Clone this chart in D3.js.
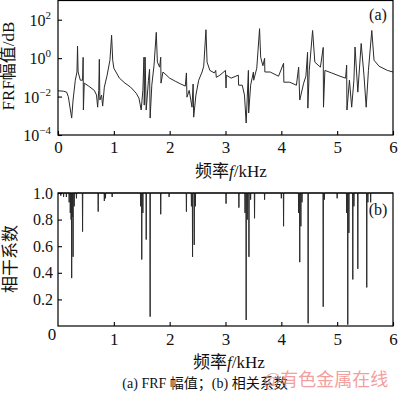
<!DOCTYPE html>
<html>
<head>
<meta charset="utf-8">
<script src="https://cdn.jsdelivr.net/npm/d3@7"></script>
<style>
body { margin: 0; background: #fff; }
text { font-family: "Liberation Serif", "Noto Sans CJK SC", serif; fill: #111; }
</style>
</head>
<body>
<svg width="400" height="395"></svg>
<script>
// (a) FRF magnitude
var frfFreq = [0.00, 0.10, 0.155, 0.185, 0.245, 0.27, 0.31, 0.34, 0.35, 0.36, 0.40, 0.44, 0.45, 0.455, 0.47, 0.55, 0.65, 0.69, 0.71, 0.73,
    0.74, 0.75, 0.78, 0.80, 0.83, 0.88, 0.93, 0.96, 0.98, 1.00, 1.10, 1.20, 1.30, 1.40, 1.45, 1.49, 1.52, 1.54, 1.545, 1.555,
    1.56, 1.58, 1.62, 1.64, 1.65, 1.68, 1.72, 1.76, 1.78, 1.82, 1.84, 1.845, 1.88, 2.00, 2.10, 2.20, 2.28, 2.30, 2.31, 2.35,
    2.40, 2.42, 2.43, 2.47, 2.52, 2.58, 2.61, 2.65, 2.67, 2.72, 2.80, 2.825, 2.835, 2.90, 3.00, 3.01, 3.015, 3.10, 3.23, 3.235,
    3.30, 3.34, 3.37, 3.39, 3.41, 3.415, 3.45, 3.50, 3.505, 3.56, 3.61, 3.63, 3.67, 3.70, 3.705, 3.80, 3.95, 4.04, 4.045, 4.15,
    4.27, 4.31, 4.33, 4.40, 4.44, 4.47, 4.475, 4.50, 4.56, 4.60, 4.70, 4.75, 4.755, 4.78, 4.90, 5.05, 5.15, 5.17, 5.175, 5.22,
    5.26, 5.30, 5.32, 5.37, 5.43, 5.48, 5.52, 5.56, 5.62, 5.66, 5.75, 5.90, 6.00];
var frfMag = [0.020, 0.019, 0.017, 0.0098, 0.00076, 0.0066, 0.071, 0.19, 4.2, 0.19, 0.071, 0.071, 1.1, 0.0020, 0.050, 0.035, 0.021, 0.012, 0.0028, 0.021,
    0.87, 0.0066, 0.012, 0.0032, 0.031, 0.13, 0.78, 15.5, 0.78, 0.30, 0.091, 0.050, 0.031, 0.015, 0.0083, 0.0020, 0.021, 1.12, 0.0036, 0.10,
    1.12, 0.0020, 0.071, 0.26, 0.00076, 0.039, 0.43, 22, 0.62, 0.34, 1.12, 0.050, 0.19, 0.091, 0.063, 0.045, 0.035, 0.17, 0.0093, 0.021,
    0.0028, 0.045, 0.00085, 0.012, 0.071, 0.19, 0.38, 30, 0.62, 0.23, 0.17, 0.23, 0.10, 0.13, 0.23, 0.028, 0.13, 0.091, 0.13, 0.039,
    0.039, 0.012, 0.00042, 0.0093, 0.23, 0.0014, 0.039, 0.19, 0.071, 0.30, 34, 1.1, 0.40, 0.98, 0.19, 0.19, 0.115, 0.54, 0.056, 0.056,
    0.039, 0.34, 0.0066, 0.050, 0.115, 2.0, 0.0025, 0.23, 27.5, 0.62, 0.34, 3.6, 0.0028, 0.23, 0.17, 0.115, 0.091, 0.43, 0.0020, 0.071,
    0.0028, 0.071, 3.8, 0.017, 5.8, 0.13, 0.0028, 0.23, 27.5, 0.78, 0.38, 0.23, 0.19];
var frfTicks = [1e-4, 1e-2, 1, 1e2];
var frfTickExp = ["-4", "-2", "0", "2"];

// (b) coherence: value stays at 1.0 except for narrow dips
var cohDipFreq = [0.05, 0.10, 0.15, 0.20, 0.22, 0.235, 0.245, 0.255, 0.27, 0.29, 0.33, 0.44, 0.72, 0.83, 0.85, 0.97, 1.48, 1.50, 1.52, 1.58,
    1.65, 1.84, 1.99, 2.30, 2.39, 2.41, 2.44, 2.46, 3.01, 3.24, 3.35, 3.37, 3.39, 3.42, 3.45, 3.52, 3.70, 4.00, 4.04, 4.31,
    4.33, 4.35, 4.37, 4.48, 4.75, 4.77, 5.00, 5.17, 5.19, 5.21, 5.28, 5.30, 5.37, 5.53, 5.55, 5.60];
var cohDipMin = [0.98, 0.97, 0.97, 0.93, 0.85, 0.80, 0.36, 0.82, 0.52, 0.90, 0.96, 0.71, 0.86, 0.94, 0.96, 0.97, 0.90, 0.50, 0.85, 0.65,
    0.07, 0.84, 0.97, 0.86, 0.90, 0.52, 0.61, 0.90, 0.92, 0.89, 0.85, 0.045, 0.80, 0.52, 0.95, 0.81, 0.95, 0.96, 0.75, 0.85,
    0.48, 0.75, 0.93, 0.02, 0.145, 0.95, 0.96, 0.85, 0.01, 0.70, 0.35, 0.90, 0.43, 0.29, 0.93, 0.93];
var cohTicks = [0.2, 0.4, 0.6, 0.8, 1.0];
var freqTicks = [0, 1, 2, 3, 4, 5, 6];

var svg = d3.select("svg"),
    left = 58, right = 393;

var x = d3.scaleLinear().domain([0, 6]).range([left, right]);
var yA = d3.scaleLog().domain([1e-4, 1e3]).range([135, 0.5]);
var yB = d3.scaleLinear().domain([0, 1]).range([326, 193]);

function frame(top, bottom) {
    svg.append("rect")
        .attr("x", left).attr("y", top)
        .attr("width", right - left).attr("height", bottom - top)
        .attr("fill", "none").attr("stroke", "#000").attr("stroke-width", 1.2);
}

// ---- (a) ----
var frfData = frfFreq.map(function(f, i) { return [f, frfMag[i]]; });

svg.append("path")
    .datum(frfData)
    .attr("fill", "none")
    .attr("stroke", "#2a2a2a")
    .attr("stroke-width", 1)
    .attr("d", d3.line().x(function(d) { return x(d[0]); }).y(function(d) { return yA(d[1]); }));

frame(0.5, 135);

var xAxisA = svg.append("g")
    .attr("transform", "translate(0,135)")
    .call(d3.axisBottom(x).tickValues(freqTicks).tickSize(-4).tickPadding(6).tickFormat(d3.format("d")));
xAxisA.select(".domain").remove();
xAxisA.selectAll("text").style("font-size", "17px").attr("fill", "#111");
xAxisA.selectAll("line").attr("stroke-width", 1.1);

var yAxisA = svg.append("g")
    .attr("transform", "translate(" + left + ",0)")
    .call(d3.axisLeft(yA).tickValues(frfTicks).tickSize(-4).tickFormat(""));
yAxisA.select(".domain").remove();
yAxisA.selectAll("line").attr("stroke-width", 1.1);

frfTicks.forEach(function(t, i) {
    var lab = svg.append("text")
        .attr("x", 51)
        .attr("y", yA(t) + 6)
        .attr("text-anchor", "end")
        .style("font-size", "16px");
    lab.append("tspan").text("10");
    lab.append("tspan")
        .attr("dy", -7)
        .style("font-size", "11px")
        .text(frfTickExp[i].replace("-", "\u2212"));
});

svg.append("text")
    .attr("transform", "translate(14,66) rotate(-90)")
    .attr("text-anchor", "middle")
    .style("font-size", "17px")
    .text("FRF幅值/dB");

svg.append("text")
    .attr("x", 378).attr("y", 20)
    .attr("text-anchor", "middle")
    .style("font-size", "16px")
    .text("(a)");

var xTitleA = svg.append("text")
    .attr("x", 231).attr("y", 177)
    .attr("text-anchor", "middle")
    .style("font-size", "17px");
xTitleA.append("tspan").text("频率");
xTitleA.append("tspan").style("font-style", "italic").text("f");
xTitleA.append("tspan").text("/kHz");

// ---- (b) ----
var cohData = [[0, 1]];
cohDipFreq.forEach(function(f, i) {
    cohData.push([f - 0.004, 1], [f, cohDipMin[i]], [f + 0.004, 1]);
});
cohData.push([6, 1]);

svg.append("path")
    .datum(cohData)
    .attr("fill", "none")
    .attr("stroke", "#2a2a2a")
    .attr("stroke-width", 1)
    .attr("d", d3.line().x(function(d) { return x(d[0]); }).y(function(d) { return yB(d[1]); }));

frame(193, 326);

var xAxisB = svg.append("g")
    .attr("transform", "translate(0,326)")
    .call(d3.axisBottom(x).tickValues(freqTicks.slice(1)).tickSize(-4).tickPadding(7).tickFormat(d3.format("d")));
xAxisB.select(".domain").remove();
xAxisB.selectAll("text").style("font-size", "17px").attr("fill", "#111");
xAxisB.selectAll("line").attr("stroke-width", 1.1);

var yAxisB = svg.append("g")
    .attr("transform", "translate(" + left + ",0)")
    .call(d3.axisLeft(yB).tickValues(cohTicks).tickSize(-4).tickPadding(5).tickFormat(d3.format(".1f")));
yAxisB.select(".domain").remove();
yAxisB.selectAll("text").style("font-size", "16px").attr("fill", "#111");
yAxisB.selectAll("line").attr("stroke-width", 1.1);

// shared origin label
svg.append("text")
    .attr("x", 52).attr("y", 340)
    .attr("text-anchor", "middle")
    .style("font-size", "17px")
    .text("0");

svg.append("text")
    .attr("transform", "translate(16,259) rotate(-90)")
    .attr("text-anchor", "middle")
    .style("font-size", "17px")
    .text("相干系数");

svg.append("text")
    .attr("x", 378).attr("y", 215)
    .attr("text-anchor", "middle")
    .style("font-size", "16px")
    .text("(b)");

var xTitleB = svg.append("text")
    .attr("x", 229).attr("y", 368)
    .attr("text-anchor", "middle")
    .style("font-size", "17px");
xTitleB.append("tspan").text("频率");
xTitleB.append("tspan").style("font-style", "italic").text("f");
xTitleB.append("tspan").text("/kHz");

svg.append("text")
    .attr("x", 205).attr("y", 388)
    .attr("text-anchor", "middle")
    .style("font-size", "14px")
    .text("(a) FRF 幅值；(b) 相关系数");

// watermark
svg.append("text")
    .attr("x", 326).attr("y", 386)
    .attr("text-anchor", "middle")
    .style("font-size", "18px")
    .style("fill", "#f08080")
    .style("opacity", 0.75)
    .text("@有色金属在线");
</script>
</body>
</html>
